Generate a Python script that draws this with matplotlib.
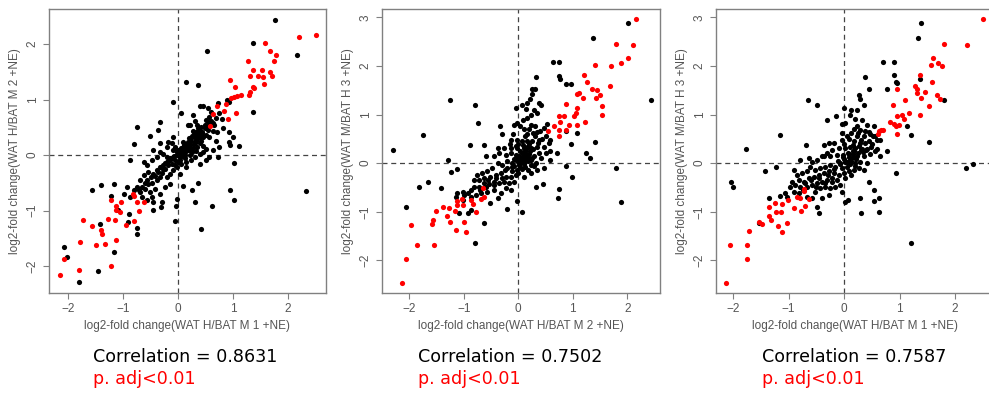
import matplotlib
matplotlib.use("Agg")
import matplotlib.pyplot as plt
import numpy as np

# ---- panel 1: M1 vs M2 (WAT H / BAT M) ----
p1_red = [
    (2.51, 2.17), (2.20, 2.12), (1.58, 2.02), (1.67, 1.88), (1.78, 1.80), (1.75, 1.70),
    (1.27, 1.69), (1.36, 1.54), (1.52, 1.54), (1.31, 1.43), (1.45, 1.42), (1.67, 1.49),
    (1.71, 1.42), (1.55, 1.41), (1.37, 1.22), (1.38, 1.20), (1.57, 1.28), (0.94, 1.36),
    (1.03, 1.23), (1.31, 1.14), (1.28, 1.09), (1.14, 1.08), (1.07, 1.06), (1.01, 1.04),
    (0.96, 1.03), (0.87, 0.92), (0.70, 0.89), (0.63, 0.74), (0.83, 0.79), (1.05, 0.75),
    (0.91, 0.65), (0.58, 0.53),
    (-1.23, -0.80), (-1.04, -0.85), (-1.13, -0.91), (-1.14, -0.98), (-1.05, -1.03),
    (-1.15, -1.17), (-1.27, -1.15), (-1.73, -1.17), (-1.57, -1.27), (-1.40, -1.34),
    (-1.39, -1.41), (-0.95, -1.26), (-0.80, -1.19), (-1.34, -1.59), (-1.50, -1.61),
    (-1.14, -1.53), (-1.79, -1.56), (-2.07, -1.87), (-1.80, -2.07), (-1.23, -1.99),
    (-2.15, -2.16), (-0.72, -1.01), (-0.81, -0.74), (-0.63, -0.85), (-0.83, -0.69),
    (-0.74, -0.84),
]
p1_black = [
    (1.77, 2.43), (1.37, 2.01), (2.17, 1.80), (0.53, 1.87), (0.14, 1.32), (0.37, 1.26),
    (-0.10, 0.96), (1.37, 0.77), (0.05, 0.75), (-0.81, 0.20), (-0.88, -0.08), (0.95, 0.19),
    (1.10, 0.16), (1.01, -0.14), (2.32, -0.65), (0.95, -0.62), (1.02, -0.80), (0.61, -0.91),
    (0.30, -0.84), (0.41, -1.32), (-0.05, -1.18), (-0.04, -0.92), (-0.03, -0.78),
    (-1.56, -0.63), (-1.40, -0.54), (-1.17, -0.52), (-1.23, -0.74), (-1.10, -0.98),
    (-0.92, -1.20), (-0.75, -1.31), (-0.75, -1.42), (-1.16, -1.75), (-2.07, -1.65),
    (-2.02, -1.83), (-1.45, -2.08), (-1.81, -2.29), (-1.42, -1.24), (-0.89, -1.05),
    (-0.45, -0.84), (-0.30, -0.84), (-0.31, -0.94), (-0.46, -0.99), (0.09, -0.55),
    (0.26, -0.63), (0.37, -0.50), (-0.75, 0.51), (-0.52, 0.35), (-0.33, 0.59), (-0.37, 0.45),
    (0.40, 0.89), (0.45, 0.89), (0.54, 0.84), (0.59, 0.78), (0.72, 0.94), (0.89, 0.99),
    (0.93, 0.96), (0.74, 0.75), (0.68, 0.66), (0.80, 0.65), (0.56, 0.69), (0.50, 0.63),
    (0.55, 0.59), (0.27, 0.73), (0.22, 0.54), (0.17, 0.54), (0.42, 0.50), (0.37, 0.48),
    (0.43, 0.42), (0.33, 0.42), (0.27, 0.44), (0.63, 0.43), (0.70, 0.41), (0.51, 0.36),
    (0.45, 0.33), (0.39, 0.32), (0.33, 0.28), (0.24, 0.26), (0.18, 0.24), (0.30, 0.21),
    (0.39, 0.21), (0.46, 0.17), (0.57, 0.33), (0.68, 0.25), (0.81, 0.48), (0.93, 0.42),
    (0.15, 0.15), (0.06, 0.12), (0.12, 0.06), (0.21, 0.09), (0.27, 0.12), (0.33, 0.08),
    (0.39, 0.03), (0.45, 0.06), (0.51, 0.11), (0.06, 0.03), (0.00, 0.09), (-0.06, 0.15),
    (-0.12, 0.21), (-0.09, 0.33), (-0.18, 0.24), (-0.03, 0.00), (0.03, -0.03), (0.09, -0.02),
    (-0.09, -0.03), (-0.15, -0.08), (-0.21, -0.12), (-0.27, -0.18), (-0.24, -0.24),
    (-0.33, -0.21), (-0.39, -0.27), (-0.45, -0.33), (-0.30, -0.32), (-0.18, -0.18),
    (-0.12, -0.15), (-0.21, -0.03), (-0.27, 0.03), (-0.33, 0.06), (-0.39, -0.03),
    (-0.48, -0.09), (-0.57, -0.18), (-0.63, -0.12), (-0.54, -0.30), (-0.63, -0.36),
    (-0.69, -0.45), (-0.57, -0.45), (-0.48, -0.50), (-0.39, -0.45), (-0.33, -0.39),
    (-0.21, -0.39), (-0.15, -0.33), (-0.09, -0.27), (-0.03, -0.21), (0.06, -0.15),
    (0.15, -0.12), (0.24, -0.08), (0.39, -0.15), (0.51, -0.09), (0.30, -0.03), (0.21, 0.00),
    (-0.75, -0.57), (-0.81, -0.63), (-0.69, -0.66), (-0.60, -0.60), (-0.51, -0.66),
    (-0.42, -0.60), (-0.33, -0.69), (-0.24, -0.57), (-0.15, -0.51), (-0.66, -0.75),
    (-0.57, -0.81), (-0.48, -0.75), (-0.87, -0.75), (-0.93, -0.57), (-0.99, -0.69),
    (0.15, -0.21), (0.03, -0.33), (0.72, -0.03), (0.57, -0.03), (0.63, 0.09), (0.75, 0.15),
    (0.93, 0.24), (0.99, 0.33), (0.63, 0.57), (0.48, 0.48), (0.09, 0.24), (-0.21, 0.15),
    (-0.09, 0.09), (-0.45, 0.09), (-0.33, 0.21), (0.10, 0.18), (0.20, 0.30), (0.25, 0.35),
    (0.05, 0.05), (0.12, 0.00), (-0.05, -0.08), (0.18, 0.10), (0.28, 0.20), (0.35, 0.38),
    # dense core
    (0.02, 0.02), (0.08, 0.10), (0.14, 0.10), (0.16, 0.20), (0.22, 0.18), (0.24, 0.30),
    (0.30, 0.32), (0.32, 0.25), (0.36, 0.30), (0.40, 0.40), (0.38, 0.45), (0.44, 0.40),
    (0.48, 0.55), (0.52, 0.50), (0.28, 0.38), (0.20, 0.12), (0.10, 0.16), (-0.02, 0.05),
    (-0.08, -0.02), (-0.14, -0.05), (-0.18, -0.10), (-0.24, -0.14), (-0.28, -0.24),
    (-0.36, -0.30), (-0.42, -0.38), (-0.50, -0.40), (-0.55, -0.52), (-0.60, -0.50),
    (-0.66, -0.58), (-0.72, -0.62), (0.04, -0.08), (0.00, -0.12), (-0.06, -0.18),
    (0.12, -0.05), (0.26, 0.05), (0.34, 0.14), (0.42, 0.25), (0.55, 0.45), (0.60, 0.62),
    (0.66, 0.55), (0.35, 0.55), (0.30, 0.62),
]

# ---- panel 2: M2 vs H3 ----
p2_red = [
    (2.16, 2.97), (1.80, 2.46), (2.10, 2.43), (2.01, 2.16), (1.88, 2.06), (1.70, 2.00),
    (1.41, 2.01), (1.20, 1.82), (1.26, 1.67), (1.68, 1.59), (1.11, 1.45), (1.07, 1.43),
    (1.18, 1.33), (1.35, 1.52), (1.45, 1.50), (1.42, 1.33), (1.50, 1.41), (1.54, 1.17),
    (1.54, 1.00), (0.88, 1.21), (1.08, 1.14), (1.05, 1.03), (1.03, 0.97), (1.23, 0.84),
    (1.07, 0.79), (0.84, 0.97), (0.74, 0.97), (0.93, 0.79), (0.77, 0.84), (0.66, 0.76),
    (0.54, 0.67), (0.75, 0.68), (0.74, 0.55), (0.87, 0.69),
    (-0.65, -0.52), (-0.62, -0.69), (-0.69, -0.73), (-0.77, -1.00), (-0.83, -0.84),
    (-0.87, -0.76), (-1.01, -0.86), (-1.04, -0.73), (-1.13, -0.77), (-1.12, -0.86),
    (-1.16, -0.99), (-1.28, -0.93), (-1.31, -1.08), (-1.39, -0.90), (-1.25, -1.22),
    (-1.51, -0.98), (-1.57, -1.17), (-1.59, -1.26), (-1.96, -1.28), (-1.86, -1.68),
    (-1.54, -1.68), (-1.14, -1.38), (-1.00, -1.22), (-0.95, -1.41), (-2.06, -1.97),
    (-2.14, -2.47),
]
p2_black = [
    (2.01, 2.88), (1.37, 2.57), (0.64, 2.09), (0.75, 2.08), (0.33, 1.77), (0.96, 1.63),
    (0.87, 1.63), (0.74, 1.80), (0.77, 1.74), (2.43, 1.29), (-1.25, 1.30), (-0.79, 1.19),
    (-1.75, 0.57), (-2.29, 0.28), (-0.74, 0.82), (-1.29, 0.06), (-1.24, -0.18),
    (-1.13, -0.11), (-1.82, -0.48), (-1.65, -0.39), (-1.41, -0.52), (-2.06, -0.90),
    (-0.79, -1.64), (-0.62, -1.24), (-0.20, -0.94), (0.06, -1.01), (-0.03, -0.78),
    (0.33, -0.50), (0.46, -0.43), (0.74, -0.54), (0.73, -0.72), (0.98, -0.29), (0.87, -0.06),
    (1.41, 0.43), (1.25, 0.20), (1.32, 0.10), (1.80, -0.09), (1.88, -0.79), (0.88, 0.66),
    (0.96, 0.40), (1.08, 0.63), (-0.88, 0.37), (-0.63, 0.38), (-0.59, 0.14), (-0.29, 0.59),
    (-0.33, 0.76),
    (0.30, 1.53), (0.26, 1.53), (0.25, 1.43), (0.21, 1.31), (0.16, 1.24), (0.07, 1.19),
    (-0.04, 1.14), (0.14, 1.12), (0.29, 1.10), (0.38, 1.24), (0.42, 1.19), (0.35, 1.03),
    (0.24, 1.00), (0.16, 0.93), (0.09, 0.88), (-0.02, 0.83), (-0.07, 0.78), (0.04, 0.77),
    (0.23, 0.79), (0.30, 0.76), (0.47, 0.72), (0.53, 0.81), (0.40, 0.66), (0.27, 0.62),
    (0.16, 0.59), (-0.09, 0.59), (-0.14, 0.48), (-0.02, 0.48), (0.07, 0.45), (0.16, 0.45),
    (0.26, 0.45), (0.38, 0.48), (0.50, 0.55), (0.56, 0.41), (0.59, 0.48), (0.47, 0.34),
    (0.35, 0.34), (0.23, 0.31), (0.10, 0.31), (-0.02, 0.31), (-0.14, 0.31), (-0.26, 0.31),
    (-0.38, 0.31), (-0.45, 0.14), (-0.35, 0.21), (-0.23, 0.17), (-0.14, 0.21), (-0.05, 0.17),
    (0.01, 0.14), (0.07, 0.21), (0.13, 0.14), (0.20, 0.19), (0.29, 0.15), (0.38, 0.21),
    (0.50, 0.21), (0.59, 0.24), (0.71, 0.21), (0.41, 0.10), (0.23, 0.07), (0.10, 0.03),
    (0.01, 0.00), (-0.05, 0.06), (-0.11, 0.00), (0.04, -0.07), (0.13, -0.07), (0.23, -0.03),
    (0.32, 0.00), (-0.02, -0.14), (-0.11, -0.17), (-0.20, -0.10), (-0.29, -0.03),
    (-0.38, 0.00), (-0.48, -0.10), (-0.57, -0.17), (-0.66, -0.21), (-0.75, -0.24),
    (-0.81, -0.34), (-0.72, -0.34), (-0.63, -0.31), (-0.52, -0.28), (-0.41, -0.24),
    (-0.32, -0.21), (-0.23, -0.28), (-0.14, -0.28), (-0.05, -0.24), (-0.08, -0.38),
    (-0.17, -0.41), (-0.26, -0.38), (-0.35, -0.41), (-0.45, -0.38), (-0.54, -0.43),
    (-0.63, -0.41), (-0.72, -0.48), (-0.81, -0.48), (-0.87, -0.55), (-0.93, -0.62),
    (-0.99, -0.66), (-1.02, -0.59), (-0.87, -0.69), (-0.78, -0.66), (-0.69, -0.62),
    (-0.57, -0.59), (-0.45, -0.55), (-0.32, -0.61), (-0.23, -0.52), (-0.14, -0.55),
    (-0.38, -0.72), (-0.52, -0.81), (-0.93, -1.03), (-0.87, -0.97), (-1.09, -1.03),
    (-1.02, -0.76), (-1.12, -0.62), (-1.15, -0.69), (0.10, -0.28), (0.23, -0.21),
    (0.35, -0.14), (0.47, -0.10), (0.59, 0.07), (0.16, 0.34), (0.05, 0.10), (0.12, 0.25),
    (0.18, 0.05), (-0.08, 0.08), (0.08, 0.38), (0.02, -0.04),
    # dense core
    (0.03, 0.05), (0.06, 0.02), (0.08, 0.12), (0.12, 0.08), (0.15, 0.18), (0.18, 0.12),
    (0.22, 0.25), (0.25, 0.10), (0.27, 0.30), (0.03, 0.25), (-0.03, 0.10), (-0.08, -0.05),
    (-0.12, -0.08), (0.00, -0.20), (0.06, -0.12), (0.10, -0.02), (0.14, 0.30), (0.20, 0.40),
    (0.30, 0.55), (0.34, 0.65), (0.36, 0.42), (0.44, 0.50), (0.00, 0.40), (-0.05, 0.35),
    (-0.20, 0.05), (-0.25, -0.15), (-0.30, -0.30), (-0.40, -0.30), (-0.45, -0.45),
    (-0.55, -0.35), (-0.60, -0.50), (-0.70, -0.55), (0.18, -0.15), (0.28, -0.05),
    (0.12, 0.55), (0.20, 0.70), (0.10, 0.70), (-0.15, 0.40),
]

# ---- panel 3: M1 vs H3 ----
p3_red = [
    (2.51, 2.97), (2.21, 2.43), (1.79, 2.46), (1.60, 2.17), (1.69, 2.06), (1.56, 2.01),
    (1.76, 2.00), (1.37, 1.82), (1.58, 1.67), (1.28, 1.59), (1.32, 1.52), (1.31, 1.44),
    (1.46, 1.46), (1.39, 1.34), (1.67, 1.41), (1.73, 1.32), (1.52, 1.17), (0.95, 1.52),
    (1.09, 1.29), (0.88, 1.20), (1.17, 1.03), (1.37, 1.00), (0.96, 0.97), (1.04, 0.98),
    (1.07, 0.90), (0.83, 0.84), (0.89, 0.81), (0.94, 0.77), (0.98, 0.79), (0.95, 0.60),
    (0.66, 0.68), (0.70, 0.68), (0.62, 0.67), (0.61, 0.59),
    (-0.73, -0.54), (-0.72, -0.57), (-0.85, -0.69), (-0.80, -0.72), (-0.63, -0.74),
    (-1.02, -0.76), (-0.91, -0.93), (-0.78, -0.99), (-0.71, -0.88), (-1.12, -0.84),
    (-1.24, -0.81), (-1.36, -0.90), (-1.22, -1.01), (-1.13, -1.00), (-1.36, -1.08),
    (-1.32, -1.17), (-1.03, -1.23), (-1.20, -1.29), (-1.12, -1.41), (-1.54, -1.22),
    (-1.48, -1.26), (-1.71, -1.39), (-2.06, -1.68), (-1.75, -1.68), (-1.75, -1.97),
    (-2.13, -2.47),
]
p3_black = [
    (1.38, 2.88), (1.33, 2.57), (0.70, 2.09), (0.90, 2.08), (0.38, 1.77), (0.90, 1.81),
    (0.93, 1.66), (0.96, 1.64), (1.37, 1.74), (1.79, 1.30), (0.44, 1.53), (0.77, 1.52),
    (0.26, 1.41), (-0.66, 1.30), (-0.49, 1.19), (-1.15, 0.57), (-1.77, 0.29), (-0.68, 0.38),
    (-0.37, 0.37), (-0.31, 0.89), (-0.14, 0.97), (-0.01, 1.13), (-1.23, -0.07),
    (-1.42, -0.17), (-2.04, -0.39), (-2.01, -0.48), (-1.54, -1.23), (-1.36, -0.71),
    (-1.15, -0.68), (-0.46, -1.03), (0.01, -0.80), (0.06, -0.76), (0.29, -0.72),
    (0.31, -1.03), (0.44, -0.38), (0.53, -0.55), (0.54, -0.78), (0.63, -0.72), (0.62, -1.01),
    (1.20, -1.65), (0.94, -0.21), (1.20, 0.57), (1.53, 0.43), (2.20, -0.09), (2.33, -0.01),
    (0.77, 0.24), (1.13, 0.76), (0.59, 0.48),
    (0.29, 1.31), (0.36, 1.19), (0.23, 1.10), (0.13, 1.10), (0.11, 1.00), (0.20, 0.90),
    (0.32, 0.88), (0.41, 0.79), (0.38, 0.66), (0.29, 0.69), (0.53, 0.76), (0.47, 0.59),
    (0.56, 0.55), (0.65, 0.48), (0.23, 0.55), (0.12, 0.62), (0.02, 0.83), (-0.04, 0.81),
    (0.05, 0.55), (-0.04, 0.48), (0.17, 0.45), (0.28, 0.41), (0.38, 0.41), (0.48, 0.34),
    (0.40, 0.28), (0.30, 0.28), (0.20, 0.31), (0.11, 0.34), (0.02, 0.31), (-0.10, 0.31),
    (-0.22, 0.28), (-0.31, 0.21), (-0.40, 0.14), (-0.25, 0.14), (-0.13, 0.17), (-0.02, 0.17),
    (0.06, 0.21), (0.16, 0.19), (0.24, 0.14), (0.35, 0.15), (0.46, 0.19), (0.56, 0.24),
    (0.65, 0.14), (0.11, 0.07), (0.02, 0.03), (-0.07, 0.00), (0.20, 0.00), (0.29, 0.03),
    (0.41, 0.00), (0.05, -0.07), (-0.04, -0.10), (-0.16, -0.07), (-0.25, -0.03),
    (-0.34, -0.07), (-0.43, -0.10), (-0.52, -0.14), (-0.61, -0.07), (-0.67, -0.17),
    (-0.76, -0.21), (-0.85, -0.24), (-0.91, -0.14), (-0.82, -0.34), (-0.73, -0.38),
    (-0.64, -0.31), (-0.55, -0.28), (-0.46, -0.24), (-0.37, -0.21), (-0.28, -0.17),
    (-0.19, -0.21), (-0.10, -0.24), (-0.01, -0.21), (0.08, -0.17), (0.17, -0.14),
    (0.26, -0.10), (0.35, -0.14), (-0.13, -0.34), (-0.22, -0.38), (-0.31, -0.34),
    (-0.40, -0.38), (-0.49, -0.41), (-0.58, -0.45), (-0.67, -0.48), (-0.79, -0.48),
    (-0.88, -0.45), (-0.94, -0.38), (-0.97, -0.48), (-0.91, -0.59), (-0.82, -0.62),
    (-0.52, -0.59), (-0.43, -0.52), (-0.34, -0.48), (-0.25, -0.52), (-0.16, -0.48),
    (-0.07, -0.45), (-0.04, -0.59), (-0.28, -0.66), (-0.40, -0.72), (-0.58, -0.72),
    (-0.67, -0.69), (-1.06, -0.62), (-1.03, -0.69), (-0.49, -0.90), (-0.37, 0.14),
    (-0.49, 0.07), (-0.58, 0.03), (-0.64, 0.10), (-0.79, 0.07), (-0.19, 0.41), (-0.28, 0.41),
    (0.23, 0.76), (-0.04, 0.62), (0.08, 0.12), (0.15, 0.25), (0.00, 0.08), (0.10, -0.02),
    # dense core
    (0.05, 0.02), (0.08, 0.18), (0.13, 0.05), (0.16, 0.12), (0.18, 0.25), (0.22, 0.08),
    (0.25, 0.20), (0.27, 0.35), (0.32, 0.30), (0.34, 0.22), (0.42, 0.30), (0.44, 0.45),
    (0.50, 0.40), (0.52, 0.55), (0.45, 0.65), (0.35, 0.55), (0.30, 0.48), (0.15, 0.38),
    (-0.02, 0.12), (-0.08, -0.02), (-0.12, 0.05), (-0.18, -0.12), (-0.22, -0.30),
    (-0.30, -0.25), (-0.35, -0.40), (-0.45, -0.30), (-0.50, -0.50), (-0.60, -0.35),
    (-0.70, -0.40), (-0.75, -0.55), (0.02, -0.30), (0.12, -0.25), (0.20, -0.05),
    (0.00, 0.40), (0.08, 0.50), (0.60, 0.30), (0.25, 0.62), (0.18, 0.70),
]

x_labels = ["log2-fold change(WAT H/BAT M 1 +NE)", "log2-fold change(WAT H/BAT M 2 +NE)",
            "log2-fold change(WAT H/BAT M 1 +NE)"]
y_labels = ["log2-fold change(WAT H/BAT M 2 +NE)", "log2-fold change(WAT M/BAT H 3 +NE)",
            "log2-fold change(WAT M/BAT H 3 +NE)"]
correlations = ["0.8631", "0.7502", "0.7587"]

W, H = 989, 394
fig = plt.figure(figsize=(W / 100, H / 100), dpi=100)

# pixel boxes (left, right, top, bottom) and limits
boxes = [(49, 326, 9, 293), (382, 660, 9, 293), (716, 994, 9, 293)]
xlims = [(-2.35, 2.69), (-2.5, 2.6), (-2.31, 2.7)]
ylims = [(-2.48, 2.63), (-2.67, 3.17), (-2.67, 3.17)]
yticks = [[-2, -1, 0, 1, 2], [-2, -1, 0, 1, 2, 3], [-2, -1, 0, 1, 2, 3]]
text_x = [93, 418, 762]
panels = [(p1_black, p1_red), (p2_black, p2_red), (p3_black, p3_red)]

grey = "#555555"
for i, (blk, red) in enumerate(panels):
    l, r, t, b = boxes[i]
    ax = fig.add_axes([l / W, 1 - b / H, (r - l) / W, (b - t) / H])
    blk = np.array(blk)
    red = np.array(red)
    ax.axhline(0, color="#444444", lw=0.9, ls=(0, (4, 3)), zorder=1)
    ax.axvline(0, color="#444444", lw=0.9, ls=(0, (4, 3)), zorder=1)
    ax.scatter(blk[:, 0], blk[:, 1], s=14, c="black", linewidths=0, zorder=2)
    ax.scatter(red[:, 0], red[:, 1], s=14, c="#ff0000", linewidths=0, zorder=3)
    ax.set_xlim(*xlims[i])
    ax.set_ylim(*ylims[i])
    ax.set_xticks([-2, -1, 0, 1, 2])
    ax.set_yticks(yticks[i])
    for sp in ax.spines.values():
        sp.set_color("#808080")
        sp.set_linewidth(1.0)
    ax.tick_params(colors="#808080", labelcolor=grey, labelsize=8.5, length=4, width=0.8)
    ax.tick_params(axis="y", labelrotation=90)
    for lab in ax.get_yticklabels():
        lab.set_va("center")
    ax.set_xlabel(x_labels[i], fontsize=8.5, color=grey, labelpad=3,
                  family="Liberation Sans")
    ax.set_ylabel(y_labels[i], fontsize=8.5, color=grey, labelpad=4,
                  family="Liberation Sans")
    for lab in ax.get_xticklabels() + ax.get_yticklabels():
        lab.set_family("Liberation Sans")

    fig.text(text_x[i] / W, 1 - 357 / H, f"Correlation = {correlations[i]}",
             fontsize=12.6, color="black", va="center", ha="left")
    fig.text(text_x[i] / W, 1 - 379 / H, "p. adj<0.01",
             fontsize=12.6, color="#ff0000", va="center", ha="left")

fig.savefig("out.png", dpi=100)
